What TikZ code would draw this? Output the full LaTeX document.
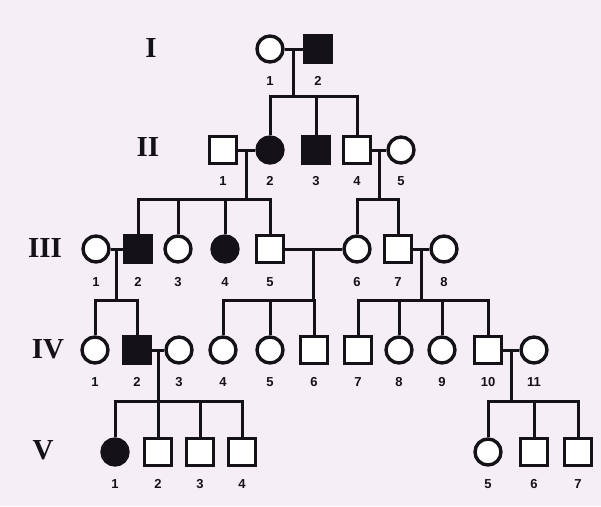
\documentclass[tikz,border=0pt]{standalone}
\usepackage{fontspec}
\setmainfont{Liberation Serif}
\setsansfont{Liberation Sans}
\usetikzlibrary{calc}
\definecolor{PaperTint}{RGB}{245,238,246}
\definecolor{InkBlack}{RGB}{20,18,22}

\tikzset{
  person/.style={draw=InkBlack, line width=3.4pt, inner sep=0pt, fill=white},
  male/.style={person, rectangle, minimum size=26.5pt},
  female/.style={person, circle, minimum size=26pt},
  malea/.style={male, fill=InkBlack},
  femalea/.style={female, fill=InkBlack},
  num/.style={font=\sffamily\bfseries\fontsize{13}{13}\selectfont, text=InkBlack},
  gen/.style={font=\bfseries\fontsize{29}{29}\selectfont, text=InkBlack},
  line/.style={draw=InkBlack, line width=3pt}
}

\begin{document}
\begin{tikzpicture}[x=1pt, y=-1pt]
  \fill[PaperTint] (0,0) rectangle (601,506);
  \useasboundingbox (0,0) rectangle (601,506);

  % generation labels
  \node[gen] (gI) at (151,48) {I};
  \node[gen] (gII) at (148,147) {II};
  \node[gen] (gIII) at (45,248) {III};
  \node[gen] (gIV) at (48,349) {IV};
  \node[gen] (gV) at (43,450) {V};

  % sibship levels
  \coordinate (s1) at (0,96);
  \coordinate (s2) at (0,199);
  \coordinate (s3) at (0,300);
  \coordinate (s4) at (0,401);

  % generation I
  \foreach \n/\x/\s in {1/270/female, 2/318/malea}{
    \node[\s] (g1-\n) at (\x,49) {};
    \node[num] (n1-\n) at (\x,81) {\n};
  }
  % generation II
  \foreach \n/\x/\s in {1/223/male, 2/270/femalea, 3/316/malea, 4/357/male, 5/401/female}{
    \node[\s] (g2-\n) at (\x,150) {};
    \node[num] (n2-\n) at (\x,181) {\n};
  }
  % generation III
  \foreach \n/\x/\s in {1/96/female, 2/138/malea, 3/178/female, 4/225/femalea,
                        5/270/male, 6/357/female, 7/398/male, 8/444/female}{
    \node[\s] (g3-\n) at (\x,249) {};
    \node[num] (n3-\n) at (\x,282) {\n};
  }
  % generation IV
  \foreach \n/\x/\s in {1/95/female, 2/137/malea, 3/179/female, 4/223/female,
                        5/270/female, 6/314/male, 7/358/male, 8/399/female,
                        9/442/female, 10/488/male, 11/534/female}{
    \node[\s] (g4-\n) at (\x,350) {};
    \node[num] (n4-\n) at (\x,382) {\n};
  }
  % generation V
  \foreach \n/\x/\s in {1/115/femalea, 2/158/male, 3/200/male, 4/242/male,
                        5/488/female, 6/534/male, 7/578/male}{
    \node[\s] (g5-\n) at (\x,452) {};
    \node[num] (n5-\n) at (\x,484) {\n};
  }

  % I-1 x I-2
  \draw[line] (g1-1.east) -- (g1-2.west);
  \coordinate (m1) at ($(g1-1.east)!.5!(g1-2.west)$);
  \draw[line] (m1) -- (m1 |- s1);
  \draw[line] (g2-2.north) -- (g2-2 |- s1) -- (g2-4 |- s1) -- (g2-4.north);
  \draw[line] (g2-3.north) -- (g2-3 |- s1);

  % II-1 x II-2
  \draw[line] (g2-1.east) -- (g2-2.west);
  \coordinate (m2) at ($(g2-1.east)!.5!(g2-2.west)$);
  \draw[line] (m2) -- (m2 |- s2);
  \draw[line] (g3-2.north) -- (g3-2 |- s2) -- (g3-5 |- s2) -- (g3-5.north);
  \draw[line] (g3-3.north) -- (g3-3 |- s2);
  \draw[line] (g3-4.north) -- (g3-4 |- s2);

  % II-4 x II-5
  \draw[line] (g2-4.east) -- (g2-5.west);
  \coordinate (m3) at ($(g2-4.east)!.5!(g2-5.west)$);
  \draw[line] (m3) -- (m3 |- s2);
  \draw[line] (g3-6.north) -- (g3-6 |- s2) -- (g3-7 |- s2) -- (g3-7.north);

  % III-1 x III-2
  \draw[line] (g3-1.east) -- (g3-2.west);
  \coordinate (m4) at ($(g3-1.east)!.5!(g3-2.west)$);
  \draw[line] (m4) -- (m4 |- s3);
  \draw[line] (g4-1.north) -- (g4-1 |- s3) -- (g4-2 |- s3) -- (g4-2.north);

  % III-5 x III-6
  \draw[line] (g3-5.east) -- (g3-6.west);
  \coordinate (m5) at ($(g3-5.east)!.5!(g3-6.west)$);
  \draw[line] (m5) -- (m5 |- s3);
  \draw[line] (g4-4.north) -- (g4-4 |- s3) -- (g4-6 |- s3) -- (g4-6.north);
  \draw[line] (g4-5.north) -- (g4-5 |- s3);

  % III-7 x III-8
  \draw[line] (g3-7.east) -- (g3-8.west);
  \coordinate (m6) at ($(g3-7.east)!.5!(g3-8.west)$);
  \draw[line] (m6) -- (m6 |- s3);
  \draw[line] (g4-7.north) -- (g4-7 |- s3) -- (g4-10 |- s3) -- (g4-10.north);
  \draw[line] (g4-8.north) -- (g4-8 |- s3);
  \draw[line] (g4-9.north) -- (g4-9 |- s3);

  % IV-2 x IV-3
  \draw[line] (g4-2.east) -- (g4-3.west);
  \coordinate (m7) at ($(g4-2.east)!.5!(g4-3.west)$);
  \draw[line] (m7) -- (m7 |- s4);
  \draw[line] (g5-1.north) -- (g5-1 |- s4) -- (g5-4 |- s4) -- (g5-4.north);
  \draw[line] (g5-2.north) -- (g5-2 |- s4);
  \draw[line] (g5-3.north) -- (g5-3 |- s4);

  % IV-10 x IV-11
  \draw[line] (g4-10.east) -- (g4-11.west);
  \coordinate (m8) at ($(g4-10.east)!.5!(g4-11.west)$);
  \draw[line] (m8) -- (m8 |- s4);
  \draw[line] (g5-5.north) -- (g5-5 |- s4) -- (g5-7 |- s4) -- (g5-7.north);
  \draw[line] (g5-6.north) -- (g5-6 |- s4);
\end{tikzpicture}
\end{document}
